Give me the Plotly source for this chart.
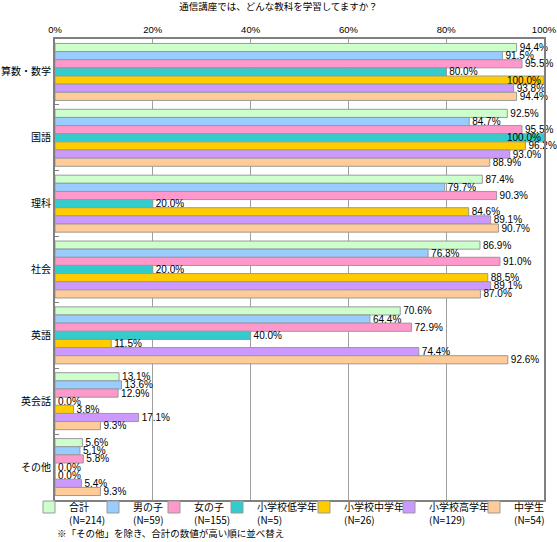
import plotly.graph_objects as go

# ---- data ----
categories = ["算数・数学", "国語", "理科", "社会", "英語", "英会話", "その他"]
series_names = ["合計", "男の子", "女の子", "小学校低学年", "小学校中学年", "小学校高学年", "中学生"]
series_n = ["N=214", "N=59", "N=155", "N=5", "N=26", "N=129", "N=54"]
total = [94.4, 92.5, 87.4, 86.9, 70.6, 13.1, 5.6]
boys = [91.5, 84.7, 79.7, 76.3, 64.4, 13.6, 5.1]
girls = [95.5, 95.5, 90.3, 91.0, 72.9, 12.9, 5.8]
elem_low = [80.0, 100.0, 20.0, 20.0, 40.0, 0.0, 0.0]
elem_mid = [100.0, 96.2, 84.6, 88.5, 11.5, 3.8, 0.0]
elem_high = [93.8, 93.0, 89.1, 89.1, 74.4, 17.1, 5.4]
junior = [94.4, 88.9, 90.7, 87.0, 92.6, 9.3, 9.3]
tick_vals = [0, 20, 40, 60, 80, 100]
tick_text = ["0%", "20%", "40%", "60%", "80%", "100%"]

# ---- styles ----
series_values = [total, boys, girls, elem_low, elem_mid, elem_high, junior]
colors = ["#CCFFCC", "#99CCFF", "#FF99CC", "#33CCCC", "#FFCC00", "#CC99FF", "#FFCC99"]
legend_text_x = [70, 134, 195, 258, 345, 430, 515]  # px where legend text starts

W, H = 557, 542
JP = "Noto Sans CJK JP, sans-serif"
NUM = "Liberation Sans Narrow, Liberation Sans, Arial, sans-serif"

fig = go.Figure()
for i, (name, n, vals, col) in enumerate(zip(series_names, series_n, series_values, colors)):
    fig.add_trace(go.Bar(
        y=categories, x=vals, orientation="h",
        name=f"{name}<br>({n})",
        marker=dict(color=col, line=dict(color="#999999", width=1)),
        texttemplate="%{x:.1f}%",
        textposition=["inside" if v >= 100 else "outside" for v in vals],
        insidetextanchor="end",
        textfont=dict(family=NUM, size=10, color="#000000"),
        constraintext="none",
        cliponaxis=False,
        legend="legend" if i == 0 else f"legend{i+1}",
    ))

layout_legends = {}
for i, tx in enumerate(legend_text_x):
    key = "legend" if i == 0 else f"legend{i+1}"
    layout_legends[key] = dict(
        xref="container", yref="container",
        x=(tx - 41) / W, y=1 - 494 / H,
        xanchor="left", yanchor="top",
        bgcolor="rgba(0,0,0,0)",
        font=dict(family=JP, size=10, color="#000000"),
        valign="top",
    )

fig.update_layout(
    width=W, height=H,
    margin=dict(l=55, r=13, t=39, b=42, autoexpand=False),
    paper_bgcolor="#FFFFFF", plot_bgcolor="#FFFFFF",
    barmode="group", bargap=0.135, bargroupgap=0,
    showlegend=True,
    title=dict(text="通信講座では、どんな教科を学習してますか？",
               x=0.5, xref="container", xanchor="center",
               y=1 - 7 / H, yref="container", yanchor="middle",
               font=dict(family=JP, size=9.5, color="#000000")),
    xaxis=dict(side="top", range=[0, 100], tickmode="array", tickvals=tick_vals, ticktext=tick_text,
               showgrid=True, gridcolor="#A0A0A0", gridwidth=1, zeroline=False,
               showline=True, mirror=True, linecolor="#808080", linewidth=1.5,
               ticks="", tickfont=dict(family=NUM, size=9.5, color="#000000"),
               ticklabeloverflow="allow",
               automargin=False, fixedrange=True),
    yaxis=dict(type="category", categoryorder="array", categoryarray=categories,
               autorange="reversed", showgrid=False, zeroline=False,
               showline=True, mirror=True, linecolor="#808080", linewidth=2,
               ticks="inside", tickson="boundaries", ticklen=4, tickcolor="#808080",
               tickfont=dict(family=JP, size=10, color="#000000"),
               automargin=False, fixedrange=True),
    annotations=[dict(text="※「その他」を除き、合計の数値が高い順に並べ替え",
                      xref="paper", yref="paper", x=0, y=(500 - 533) / 461,
                      xanchor="left", yanchor="middle", showarrow=False,
                      font=dict(family=JP, size=9.5, color="#000000"))],
    **layout_legends,
)

fig.write_html(
    "out.html", config={"displayModeBar": False},
    post_script="document.body.style.margin='0';",
)
